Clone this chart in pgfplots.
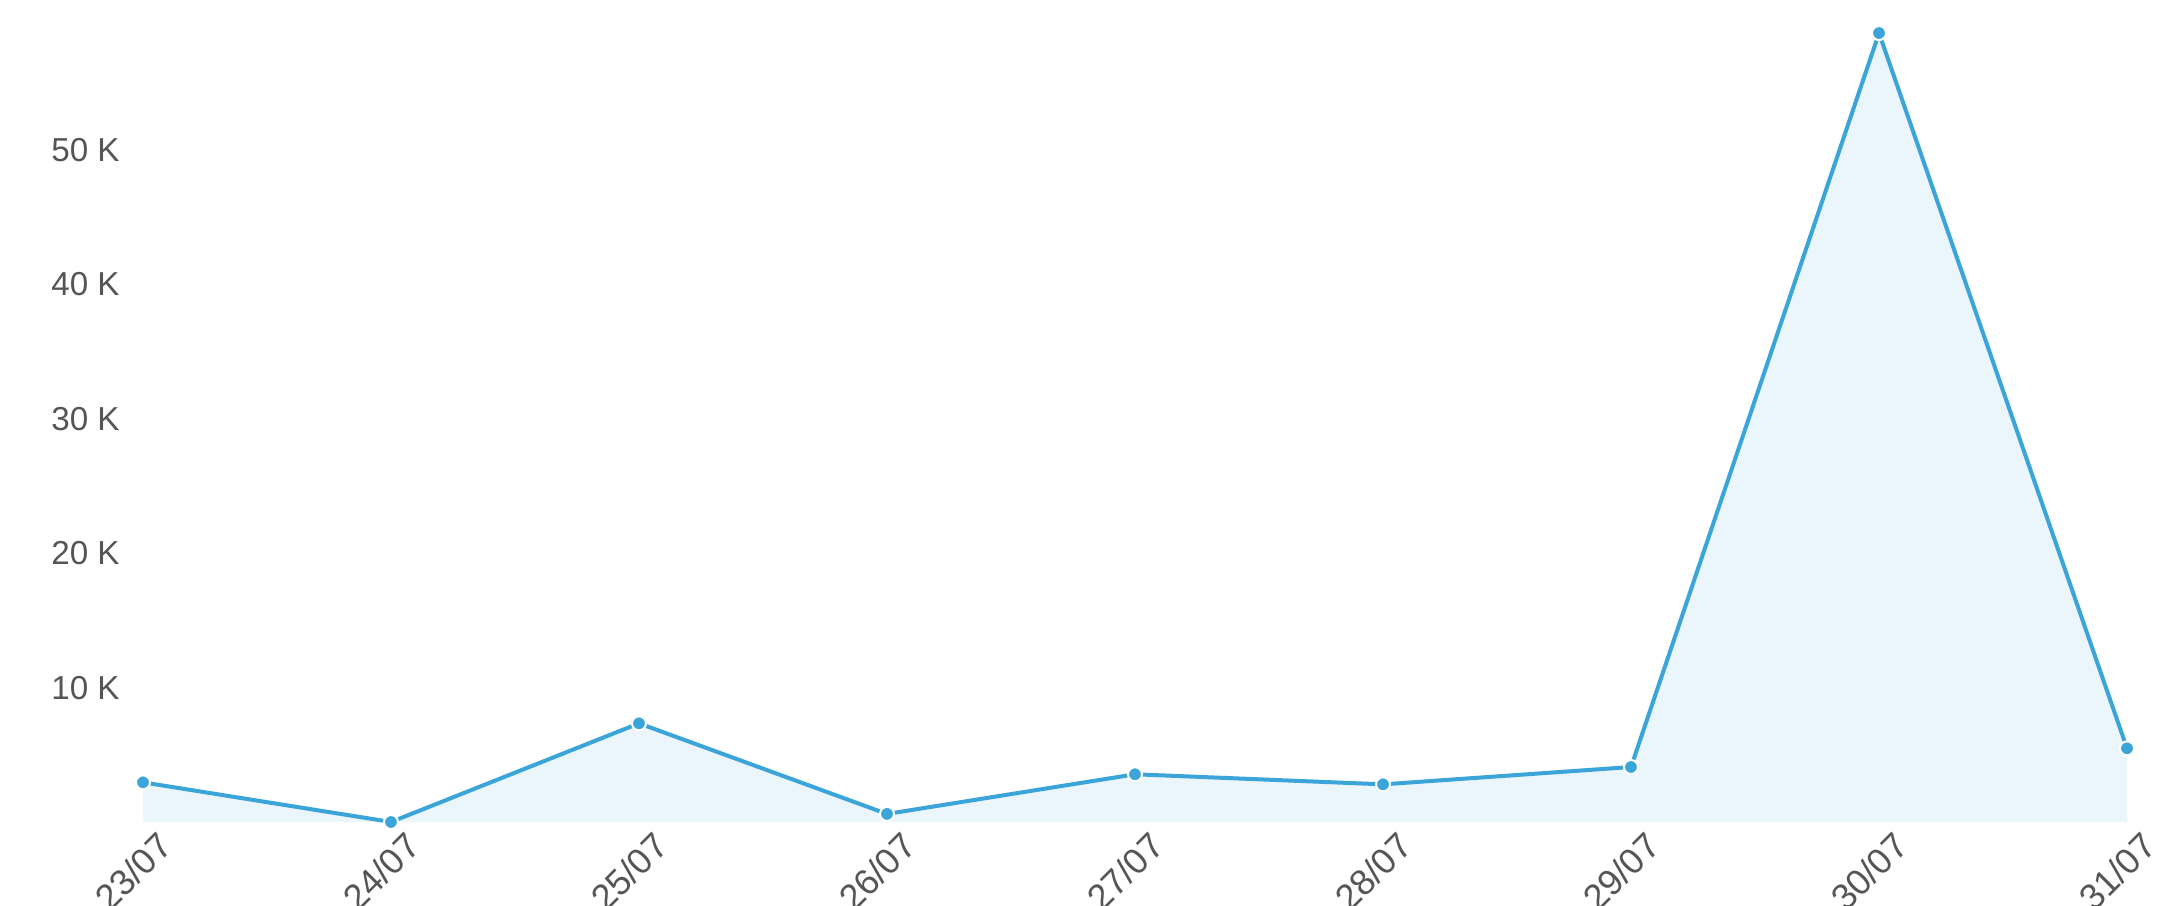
\documentclass[border=0pt]{standalone}
\usepackage{pgfplots}
\pgfplotsset{compat=1.18}
\usepackage{fontspec}
\setmainfont{Liberation Sans}
\definecolor{linec}{RGB}{59,165,218}
\definecolor{fillc}{RGB}{234,245,252}
\definecolor{txt}{RGB}{85,85,85}
\begin{document}
\begin{tikzpicture}
\path[use as bounding box] (-35.75pt,-21pt) rectangle (504.25pt,205.5pt);
\begin{axis}[
  scale only axis,
  width=496pt, height=205.5pt,
  xmin=0, xmax=8, ymin=0, ymax=61.16,
  axis lines=left,
  axis line style={draw=none},
  tick style={draw=none},
  xtick={0,1,2,3,4,5,6,7,8},
  xticklabels={23/07,24/07,25/07,26/07,27/07,28/07,29/07,30/07,31/07},
  ytick={10,20,30,40,50},
  yticklabels={10 K,20 K,30 K,40 K,50 K},
  ticklabel style={text=txt},
  yticklabel style={font=\fontsize{8.3}{9}\selectfont, anchor=east, inner sep=0pt, xshift=-3.5pt},
  xticklabel style={font=\fontsize{9}{10}\selectfont, rotate=45, anchor=north east, inner sep=0pt, xshift=2.5pt, yshift=-2pt},
  clip=false,
]
\addplot[fill=fillc, draw=none] coordinates {
 (0,2.95) (1,0) (2,7.34) (3,0.6) (4,3.55) (5,2.8) (6,4.09) (7,58.7) (8,5.48)
} \closedcycle;
\addplot[linec, line width=1pt, mark=*, mark size=1.75pt,
  mark options={fill=linec, draw=white, line width=0.5pt}] coordinates {
 (0,2.95) (1,0) (2,7.34) (3,0.6) (4,3.55) (5,2.8) (6,4.09) (7,58.7) (8,5.48)
};
\end{axis}
\end{tikzpicture}
\end{document}
